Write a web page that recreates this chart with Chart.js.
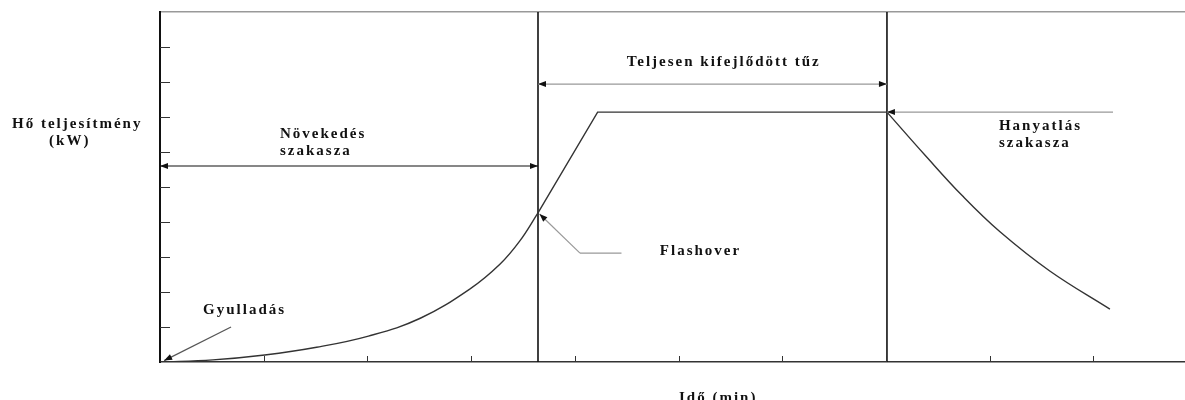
<!DOCTYPE html>
<html lang="hu">
<head>
<meta charset="UTF-8">
<title>Hő teljesítmény</title>
<style>
  html, body { margin: 0; padding: 0; background: #fff; }
  #wrap { width: 1185px; height: 400px; position: relative; }
</style>
</head>
<body>
<div id="wrap"><canvas id="fireChart"></canvas></div>
<script src="https://cdn.jsdelivr.net/npm/chart.js@4.4.1/dist/chart.umd.min.js"></script>
<script>
// curve (x = time ticks, y = heat release ticks)
const growthX = [0, 0.51, 1.01, 1.51, 2.01, 2.51, 2.99, 3.28, 3.47, 3.645];
const growthY = [0, 0.06, 0.2, 0.42, 0.74, 1.25, 2.09, 2.8, 3.46, 4.26];
const fullX = [3.645, 4.22, 7.01];
const fullY = [4.26, 7.14, 7.14];
const decayX = [7.01, 7.38, 7.74, 8.1, 8.58, 9.16];
const decayY = [7.14, 5.9, 4.74, 3.72, 2.6, 1.51];
const phaseLines = [3.645, 7.01]; // flashover, start of decay
const xTicks = [1, 2, 3, 4, 5, 6, 7, 8, 9];
const yTicks = [1, 2, 3, 4, 5, 6, 7, 8, 9];
const xMax = 9.884;
const yMax = 10;

const pts = (xs, ys) => xs.map((v, i) => ({x: v, y: ys[i]}));

const curveStyle = {borderColor: '#333', borderWidth: 1.4, pointRadius: 0, fill: false};

const datasets = [
    Object.assign({data: pts(growthX, growthY), tension: 0.4}, curveStyle),
    Object.assign({data: pts(fullX, fullY), tension: 0}, curveStyle),
    Object.assign({data: pts(decayX, decayY), tension: 0.4}, curveStyle)
];
phaseLines.forEach(v => {
    datasets.push({data: [{x: v, y: 0}, {x: v, y: yMax}], borderColor: '#111', borderWidth: 1.6, pointRadius: 0});
});

// annotations: [x1, y1, x2, y2, arrow at start, arrow at end, colour]
const arrows = [
    [0, 5.6, 3.645, 5.6, true, true, '#111'],
    [3.645, 7.94, 7.01, 7.94, true, true, '#999'],
    [9.19, 7.14, 7.01, 7.14, false, true, '#999'],
    [4.45, 3.11, 4.05, 3.11, false, false, '#999'],
    [4.05, 3.11, 3.66, 4.23, false, true, '#999'],
    [0.685, 1.0, 0.04, 0.04, false, true, '#555']
];
const labels = [
    ['Hő teljesítmény', -1.427, 6.8],
    ['(kW)', -1.07, 6.31],
    ['Növekedés', 1.157, 6.51],
    ['szakasza', 1.157, 6.03],
    ['Teljesen kifejlődött tűz', 4.5, 8.58],
    ['Hanyatlás', 8.09, 6.74],
    ['szakasza', 8.09, 6.25],
    ['Flashover', 4.82, 3.17],
    ['Gyulladás', 0.415, 1.49],
    ['Idő (min)', 5.005, -1.03]
];

function drawArrow(ctx, x1, y1, x2, y2, headStart, headEnd, color) {
    ctx.strokeStyle = color;
    ctx.fillStyle = '#111';
    ctx.lineWidth = 1.2;
    ctx.beginPath();
    ctx.moveTo(x1, y1);
    ctx.lineTo(x2, y2);
    ctx.stroke();
    const head = (tx, ty, fx, fy) => {
        const a = Math.atan2(ty - fy, tx - fx);
        const len = 8, w = 3;
        ctx.beginPath();
        ctx.moveTo(tx, ty);
        ctx.lineTo(tx - len * Math.cos(a) + w * Math.sin(a), ty - len * Math.sin(a) - w * Math.cos(a));
        ctx.lineTo(tx - len * Math.cos(a) - w * Math.sin(a), ty - len * Math.sin(a) + w * Math.cos(a));
        ctx.closePath();
        ctx.fill();
    };
    if (headStart) head(x1, y1, x2, y2);
    if (headEnd) head(x2, y2, x1, y1);
}

const fireDecor = {
    id: 'fireDecor',
    afterDatasetsDraw(chart) {
        const {ctx, chartArea, scales: {x, y}} = chart;
        ctx.save();
        // inner tick marks
        ctx.strokeStyle = '#333';
        ctx.lineWidth = 1;
        yTicks.forEach(v => {
            const py = Math.round(y.getPixelForValue(v)) + 0.5;
            ctx.beginPath();
            ctx.moveTo(chartArea.left, py);
            ctx.lineTo(chartArea.left + 10, py);
            ctx.stroke();
        });
        xTicks.forEach(v => {
            const px = Math.round(x.getPixelForValue(v)) + 0.5;
            ctx.beginPath();
            ctx.moveTo(px, chartArea.bottom);
            ctx.lineTo(px, chartArea.bottom - 6);
            ctx.stroke();
        });
        arrows.forEach(a => {
            drawArrow(ctx, x.getPixelForValue(a[0]), y.getPixelForValue(a[1]),
                x.getPixelForValue(a[2]), y.getPixelForValue(a[3]), a[4], a[5], a[6]);
        });
        ctx.font = 'bold 15px "Liberation Serif", "DejaVu Serif", serif';
        ctx.letterSpacing = '2px';
        ctx.fillStyle = '#111';
        ctx.textBaseline = 'middle';
        ctx.textAlign = 'left';
        labels.forEach(l => ctx.fillText(l[0], x.getPixelForValue(l[1]), y.getPixelForValue(l[2])));
        ctx.restore();
    }
};

new Chart(document.getElementById('fireChart'), {
    type: 'line',
    data: {datasets: datasets},
    options: {
        responsive: true,
        maintainAspectRatio: false,
        animation: false,
        layout: {padding: {left: 152, top: 4, right: 0, bottom: 30}},
        plugins: {legend: {display: false}, tooltip: {enabled: false}},
        scales: {
            x: {
                type: 'linear', min: 0, max: xMax,
                ticks: {display: false},
                grid: {display: false},
                border: {color: '#333', width: 1.5}
            },
            xTop: {
                type: 'linear', position: 'top', min: 0, max: xMax,
                ticks: {display: false},
                grid: {display: false},
                border: {color: '#999', width: 1.5}
            },
            y: {
                min: 0, max: yMax,
                ticks: {display: false},
                grid: {display: false},
                border: {color: '#111', width: 2}
            }
        }
    },
    plugins: [fireDecor]
});
</script>
</body>
</html>
